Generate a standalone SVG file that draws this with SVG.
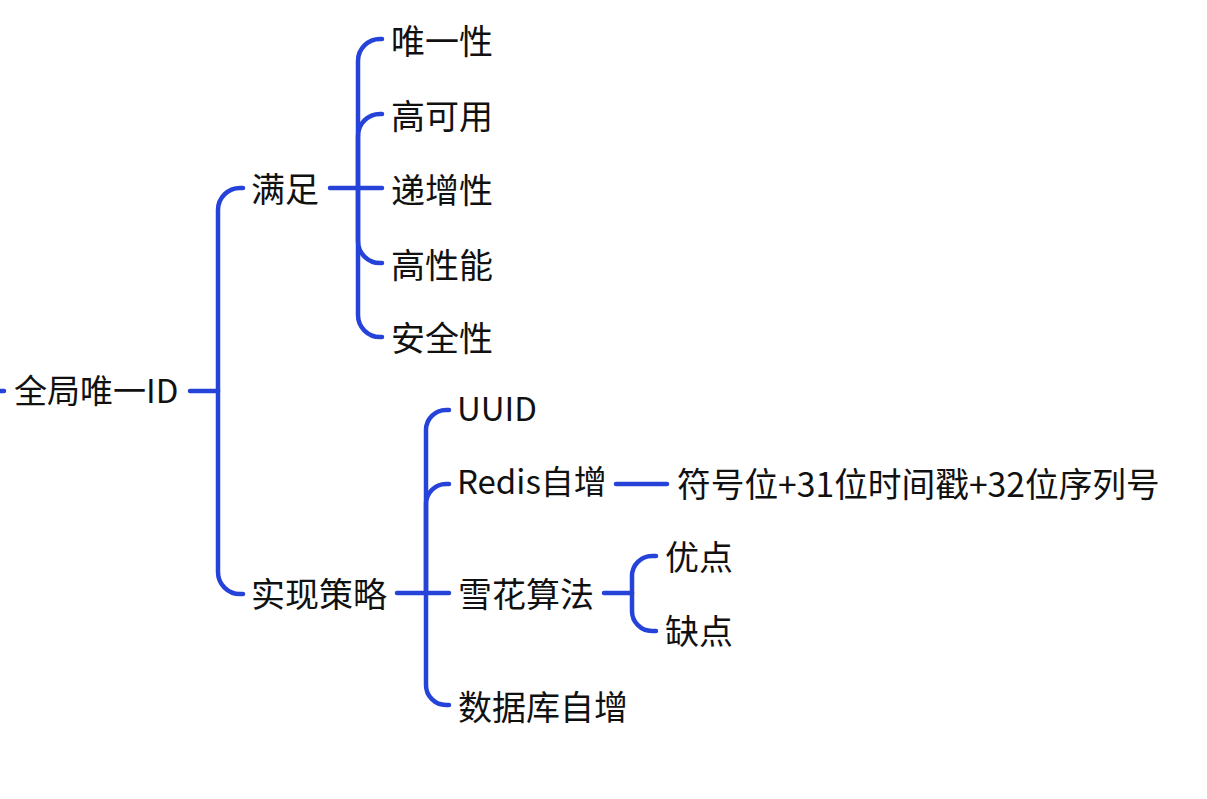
<svg xmlns="http://www.w3.org/2000/svg" width="1207" height="799" viewBox="0 0 1207 799">
<style>
.c{fill:none;stroke:#2643d9;stroke-width:4.5;stroke-linecap:round;stroke-linejoin:round}
.t{font-family:"Noto Sans CJK SC","Noto Sans",sans-serif;font-size:34px;fill:#111}
.m{font-size:33px}
</style>
<rect width="1207" height="799" fill="#fff"/>
<g id="connectors">
<path class="c" d="M-5 391 H4"/>
<path class="c" d="M190 391 H218"/>
<path class="c" d="M218 391 V210 A22 22 0 0 1 240 188 H243"/>
<path class="c" d="M218 391 V572 A22 22 0 0 0 240 594 H243"/>
<path class="c" d="M330 188 H382"/>
<path class="c" d="M358 188 V61 A22 22 0 0 1 380 39 H382"/>
<path class="c" d="M358 188 V136 A22 22 0 0 1 380 114 H382"/>
<path class="c" d="M358 188 V241 A22 22 0 0 0 380 263 H382"/>
<path class="c" d="M358 188 V315 A22 22 0 0 0 380 337 H382"/>
<path class="c" d="M397 593 H449"/>
<path class="c" d="M426 593 V430 A20 20 0 0 1 446 410 H449"/>
<path class="c" d="M426 593 V504 A20 20 0 0 1 446 484 H449"/>
<path class="c" d="M426 593 V685 A20 20 0 0 0 446 705 H449"/>
<path class="c" d="M616 484 H667"/>
<path class="c" d="M604 593 H632"/>
<path class="c" d="M632 593 V576 A20 20 0 0 1 652 556 H656"/>
<path class="c" d="M632 593 V611 A20 20 0 0 0 652 631 H656"/>
</g>
<g id="root"><text class="t m" x="14" y="403">全局唯一ID</text></g>
<g id="n-manzu"><text class="t" x="251" y="202">满足</text></g>
<g id="n-weiyi"><text class="t" x="391" y="54">唯一性</text></g>
<g id="n-gaokeyong"><text class="t" x="391" y="129">高可用</text></g>
<g id="n-dizeng"><text class="t" x="391" y="203">递增性</text></g>
<g id="n-gaoxingneng"><text class="t" x="391" y="278">高性能</text></g>
<g id="n-anquan"><text class="t" x="391" y="351">安全性</text></g>
<g id="n-shixian"><text class="t" x="251" y="607">实现策略</text></g>
<g id="n-uuid"><text class="t m" x="457" y="421">UUID</text></g>
<g id="n-redis"><text class="t m" x="457" y="494">Redis自增</text></g>
<g id="n-redis-detail"><text class="t" x="677" y="497" style="font-size:33.7px">符号位+31位时间戳+32位序列号</text></g>
<g id="n-snow"><text class="t" x="458" y="607">雪花算法</text></g>
<g id="n-youdian"><text class="t" x="665" y="570">优点</text></g>
<g id="n-quedian"><text class="t" x="665" y="644">缺点</text></g>
<g id="n-db"><text class="t" x="458" y="720">数据库自增</text></g>
</svg>
